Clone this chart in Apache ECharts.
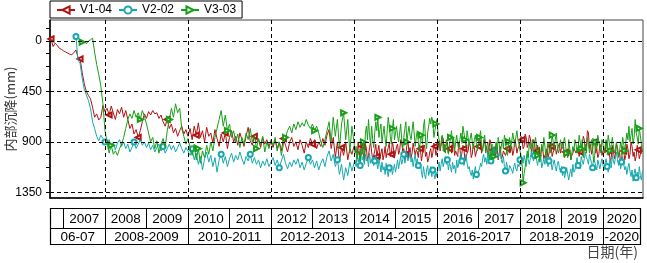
<!DOCTYPE html>
<html><head><meta charset="utf-8">
<script src="https://cdn.jsdelivr.net/npm/echarts@6/dist/echarts.min.js"></script>
<style>html,body{margin:0;padding:0;background:#fff}#c{width:647px;height:263px}</style>
</head><body><div id="c"></div>
<script>
const seriesNames = ['V1-04', 'V2-02', 'V3-03'];
const seriesColors = ['#B01212', '#16A8AE', '#17A017'];
const stepEarly = 0.05;   // sparse readings up to 2014.00
const stepLate = 0.025;   // dense readings from 2014.025
const lateStart = 2014.025;

// V1-04 sparse readings, from 2006.70 to 2014.00
const v1Start = 2006.70;
const v1Early = [
  -18, 50, 20, 40, 65, 75, 88, 98, 108, 118, 122, 105, 80, 150, 160, 280, 380, 450, 485, 515, 590, 680, 650, 705, 680, 575, 630,
  600, 660, 580, 640, 700, 610, 650, 590, 680, 620, 700, 780, 740, 830, 790, 860, 800, 720, 650, 690,
  630, 660, 620, 650, 640, 690, 660, 720, 760, 700, 780, 740, 820, 780, 850, 800, 760, 830, 790, 850,
  780, 880, 760, 840, 730, 860, 800, 900, 770, 850, 820, 910, 790, 870, 940, 830, 900, 820, 960, 860,
  800, 900, 850, 930, 820, 880, 940, 850, 770, 890, 930, 850, 910, 880, 950, 860, 920, 880, 940, 900,
  950, 880, 960, 900, 980, 870, 930, 990, 900, 860, 940, 900, 970, 880, 930, 1000, 900, 950, 870, 920,
  880, 960, 900, 940, 870, 930, 840, 790, 960, 860, 1040, 900, 1080, 950, 1020, 900, 1060, 960, 1010, 940
];
// V1-04 dense readings, from 2014.025 to 2020.95
const v1Late = [
  960,1000,1050,900,980,1060,890,940,1010,1080,920,960,1070,1020,950,900,990,1050,1020,980,920,1030,980,930,1050,1000,960,1060,1010,940,1040,990,950,910,1030,1010,900,950,1040,1000,
  940,920,1010,980,880,900,990,960,1060,1010,930,890,1000,950,1040,1000,910,920,1020,970,990,1040,930,960,1070,1010,950,930,1030,990,1080,1050,990,960,1040,1000,910,940,1020,980,
  950,890,980,930,850,870,990,950,920,900,1000,960,940,1000,880,920,1020,980,970,1030,900,950,1050,1000,930,960,1070,1040,1000,980,900,930,1040,1010,920,950,1030,990,980,940,
  860,900,1000,960,920,880,980,940,1030,990,880,920,1010,970,960,1020,1000,950,1060,1000,940,1050,1030,980,980,1020,1010,960,950,1000,980,940,1020,980,880,920,1000,960,940,900,
  850,880,960,940,830,860,950,920,840,870,990,950,880,900,1010,980,930,990,1060,1030,940,970,1050,1020,1000,960,1040,1000,900,940,1030,990,970,930,1010,970,940,910,1000,960,
  900,940,1040,990,980,1030,1010,970,1060,1020,1000,960,950,1000,990,950,1030,990,960,930,850,880,980,940,800,820,960,920,1010,970,880,900,1000,960,1040,1010,920,950,1020,980,
  960,1000,900,940,1020,980,1080,1040,930,970,1050,1010,920,950,1030,990,1090,1050,940,980,1060,1020,920,960,1050,1010,900,940,1030,990,1070,1030,930,970,1050,1010,960,990
];

// V2-02 sparse readings, from 2007.30 to 2014.00
const v2Start = 2007.30;
const v2Early = [
  -40, 170, 200, 330, 430, 480, 530, 600, 720, 780, 850, 890, 840, 870, 900,
  920, 880, 950, 900, 970, 910, 880, 940, 900, 960, 920, 990, 950, 900, 960, 920, 880, 930, 900, 950,
  910, 970, 930, 990, 950, 920, 980, 940, 1000, 960, 920, 970, 930, 990, 950, 910, 960, 1000, 950, 980,
  1020, 960, 1060, 1000, 1100, 1030, 1150, 1050, 990, 1080, 1020, 1120, 1040, 1170, 1060, 1010, 1090, 1030, 1120, 1050,
  1000, 1080, 1020, 1060, 990, 1050, 1100, 1030, 1070, 1010, 1090, 1040, 1100, 1060, 1130, 1070, 1110, 1050, 1120, 1080,
  1040, 1110, 1060, 1130, 1070, 1010, 1090, 1140, 1080, 1120, 1060, 1100, 1050, 1130, 1080, 1150, 1090, 1040, 1100, 1060,
  1130, 1070, 1150, 1090, 1050, 1120, 1030, 980, 1070, 1010, 1120, 1060, 1190, 1100, 1240, 1130, 1200, 1080, 1160, 1090
];
// V2-02 dense readings, from 2014.025 to 2020.95
const v2Late = [
  1060,1120,1000,1080,1040,1110,990,1060,1030,1100,1010,1070,1050,1120,1000,1090,1060,1030,1110,1070,1020,1090,1140,1060,1100,1170,1080,1150,1120,1190,1090,1160,1210,1130,1170,1110,1190,1140,1100,1170,
  1120,1060,1140,1080,1030,1100,1060,1010,1090,1040,1000,1070,1030,990,1080,1040,1120,1060,1010,1090,1050,1110,1140,1080,1170,1220,1120,1190,1230,1150,1110,1200,1160,1120,1210,1150,1180,1230,1170,1210,
  1130,1080,1160,1100,1050,1120,1080,1030,1100,1060,1150,1090,1120,1170,1080,1140,1110,1180,1060,1130,1090,1040,1000,1070,1040,1110,1060,1010,1090,1140,1120,1170,1200,1150,1230,1170,1120,1190,1220,1160,
  1140,1090,1120,1050,1010,1080,1040,1100,990,1050,1020,1070,970,1030,940,1000,960,1020,1050,1000,980,1060,1090,1030,1120,1160,1080,1130,1170,1110,1100,1150,1180,1120,1090,1140,1160,1100,1120,1060,
  1110,1060,1090,1020,1070,1120,1010,1060,1100,1040,980,1030,1070,1020,1000,1060,1110,1050,1080,1030,1130,1090,1050,1100,1010,1060,1120,1070,1030,1090,1150,1100,1060,1120,1160,1100,1070,1130,1170,1120,
  1200,1150,1220,1170,1130,1190,1240,1180,1140,1210,1100,1170,1150,1090,1040,1110,1080,1140,1030,1070,1100,1050,990,1040,1060,1100,1010,1050,1090,1130,1040,1080,1110,1150,1060,1100,1140,1090,1050,1110,
  1150,1090,1050,1120,1170,1110,1060,1130,1020,1070,1100,1040,990,1060,1110,1050,1140,1080,1030,1100,1150,1120,1190,1130,1090,1160,1210,1150,1250,1180,1140,1220,1170,1230,1120,1200,1240,1160
];

// V3-03 sparse readings, from 2007.45 to 2014.00
const v3Start = 2007.45;
const v3Early = [
  10, 5, 25, 0, -10, -25, 100, 210, 300, 400, 560, 800,
  900, 1000, 930, 1010, 980, 1020, 960, 920, 860, 780, 700, 650, 690, 620, 680, 640, 700, 620, 670, 740,
  820, 900, 860, 960, 890, 1000, 920, 870, 950, 800, 700, 600, 680, 560, 640, 600, 780, 850, 920, 870,
  950, 1020, 920, 1060, 960, 1090, 980, 1040, 930, 1010, 900, 980, 860, 780, 700, 620, 760, 660, 800, 740,
  860, 800, 900, 830, 950, 860, 920, 820, 880, 780, 900, 840, 960, 870, 930, 850, 990, 900, 960, 880,
  930, 860, 980, 900, 1020, 920, 860, 800, 760, 820, 740, 790, 720, 770, 730, 760, 700, 750, 780, 740,
  800, 760, 820, 900, 950, 880, 800, 720, 900, 680, 850, 700, 960, 740, 640, 880, 700, 1000, 760, 900
];
// V3-03 dense readings, from 2014.025 to 2020.95
const v3Late = [
  1000,940,1050,980,1020,1070,960,1010,900,1040,820,760,880,700,840,920,760,880,950,820,720,800,680,860,790,740,900,830,760,870,940,800,680,760,850,920,780,700,880,820,
  760,840,900,820,740,880,960,860,780,720,900,820,760,840,880,800,720,820,940,860,800,900,990,880,840,920,760,700,900,960,820,760,690,740,680,720,860,800,740,700,
  820,880,960,900,840,980,920,1000,880,960,1010,940,860,800,920,860,980,900,840,920,960,880,820,900,760,820,880,940,800,860,930,870,820,900,960,880,840,920,980,900,
  860,800,940,980,880,840,1000,940,900,980,1060,960,920,1000,1030,960,900,980,860,920,1000,940,880,960,840,900,980,1020,900,860,960,900,820,880,940,860,800,880,920,980,
  1020,1100,1265,1180,1120,1060,980,1040,900,960,940,880,1000,920,860,940,1020,960,1080,1000,920,980,860,940,1040,980,900,960,1000,940,840,900,960,880,820,940,1000,960,880,940,
  960,900,860,940,1000,1040,880,960,1060,1000,940,980,880,920,1000,960,840,900,960,880,1040,980,920,1000,860,920,1000,940,880,960,1080,1020,900,960,840,900,940,1000,880,920,
  1000,940,880,960,840,900,980,920,860,940,1000,960,900,980,1040,980,900,960,860,920,980,900,820,880,760,900,840,780,920,860,700,820,860,920,780,840,920,980
];

const yTickLabels = [0, 450, 900, 1350];
const yMinorTicks = [-112.5, 0, 112.5, 225, 337.5, 450, 562.5, 675, 787.5, 900, 1012.5, 1125, 1237.5, 1350];
const gridYears = [2008, 2010, 2012, 2014, 2016, 2018, 2020];
const yearLabels = ['2007','2008','2009','2010','2011','2012','2013','2014','2015','2016','2017','2018','2019','2020'];
const yearStarts = [2007,2008,2009,2010,2011,2012,2013,2014,2015,2016,2017,2018,2019,2020];
const groupLabels = ['06-07','2008-2009','2010-2011','2012-2013','2014-2015','2016-2017','2018-2019','-2020'];
const groupStarts = [2008, 2010, 2012, 2014, 2016, 2018, 2020];
const xMin = 2006.675, xMax = 2020.964, tableEnd = 2020.89;
const yMin = -187, yMax = 1400;

function toPairs(start, early, late) {
  const out = early.map((v, i) => [Math.round((start + i * stepEarly) * 1000) / 1000, v]);
  late.forEach((v, i) => out.push([Math.round((lateStart + i * stepLate) * 1000) / 1000, v]));
  return out;
}

const chart = echarts.init(document.getElementById('c'), null, {renderer: 'canvas'});
const fontLatin = "'Liberation Sans', Arial, sans-serif";
const fontCJK = "'Noto Sans CJK SC', sans-serif";

const dataSets = [toPairs(v1Start, v1Early, v1Late), toPairs(v2Start, v2Early, v2Late), toPairs(v3Start, v3Early, v3Late)];
const symbols = ['emptyTriangle', 'emptyCircle', 'emptyTriangle'];
const rotates = [90, 0, -90];

const series = [{
  type: 'line', name: '_grid', data: [[xMin, yMin]], symbol: 'none', z: 1,
  lineStyle: {opacity: 0}, silent: true, legendHoverLink: false,
  markLine: {
    silent: true, symbol: ['none', 'none'], label: {show: false}, animation: false,
    lineStyle: {type: [4, 3], color: '#000', width: 1},
    emphasis: {disabled: true},
    data: gridYears.map(v => ({xAxis: v})).concat(yTickLabels.map(v => ({yAxis: v})))
  }
}];
seriesNames.forEach((n, k) => {
  series.push({
    type: 'line', name: n, data: dataSets[k], z: 2 + k,
    symbol: symbols[k], symbolRotate: rotates[k],
    symbolSize: (val, p) => (p.dataIndex % 14 === 0 ? 5 : 0),
    showSymbol: true,
    lineStyle: {color: seriesColors[k], width: 1},
    itemStyle: {color: seriesColors[k], borderWidth: 1},
    emphasis: {disabled: true}
  });
});

chart.setOption({
  animation: false,
  color: seriesColors,
  grid: {left: 50, right: 4, top: 20, bottom: 65, show: true, borderColor: '#444', borderWidth: 1,
         containLabel: false, outerBoundsMode: 'none'},
  legend: {
    data: seriesNames, left: 50, top: 1, orient: 'horizontal',
    itemWidth: 18, itemHeight: 9, itemGap: 6, padding: [3, 6, 2, 6],
    borderColor: '#000', borderWidth: 1,
    textStyle: {fontSize: 12, fontFamily: fontLatin, color: '#000'}
  },
  xAxis: {
    type: 'value', min: xMin, max: xMax,
    axisLine: {show: true, onZero: false, lineStyle: {color: '#000', width: 1.5}},
    axisTick: {show: false}, axisLabel: {show: false}, splitLine: {show: false}
  },
  yAxis: {
    type: 'value', inverse: true, min: yMin, max: yMax,
    name: '内部沉降(mm)', nameLocation: 'middle', nameGap: 33, nameMoveOverlap: false,
    nameTextStyle: {fontSize: 13, fontFamily: fontCJK, color: '#333'},
    axisLine: {show: true, onZero: false, lineStyle: {color: '#000', width: 1.5}},
    axisTick: {show: true, inside: false, length: 4, customValues: yMinorTicks, lineStyle: {color: '#000'}},
    axisLabel: {customValues: yTickLabels, fontSize: 12, fontFamily: fontLatin, color: '#000', margin: 8,
                formatter: v => String(v)},
    splitLine: {show: false}
  },
  series: series
});

// Date table below the axis
function px(v) { return chart.convertToPixel({xAxisIndex: 0}, v); }
const top1 = 208, mid = 228, bot = 244;
const xL = Math.round(px(xMin)) + 0.5, xR = Math.round(px(tableEnd)) + 0.5;
const g = [];
const ls = {stroke: '#000', lineWidth: 1};
g.push({type: 'rect', shape: {x: xL, y: top1 + 0.5, width: xR - xL, height: bot - top1}, style: {fill: 'none', stroke: '#000', lineWidth: 1.2}, silent: true});
g.push({type: 'line', shape: {x1: xL, y1: mid + 0.5, x2: xR, y2: mid + 0.5}, style: ls, silent: true});
yearStarts.forEach((y, i) => {
  const x = Math.round(px(y)) + 0.5;
  g.push({type: 'line', shape: {x1: x, y1: top1, x2: x, y2: mid}, style: ls, silent: true});
  const x2 = i + 1 < yearStarts.length ? px(yearStarts[i + 1]) : xR;
  g.push({type: 'text', x: (px(y) + x2) / 2, y: (top1 + mid) / 2 + 1,
    style: {text: yearLabels[i], font: '13.5px ' + fontLatin, fill: '#000', align: 'center', verticalAlign: 'middle'}, silent: true});
});
const gEdges = [xMin].concat(groupStarts, [tableEnd]);
groupLabels.forEach((lab, i) => {
  const a = i === 0 ? xL : px(gEdges[i]);
  const b = i === groupLabels.length - 1 ? xR : px(gEdges[i + 1]);
  if (i > 0) {
    const x = Math.round(px(gEdges[i])) + 0.5;
    g.push({type: 'line', shape: {x1: x, y1: mid, x2: x, y2: bot}, style: ls, silent: true});
  }
  g.push({type: 'text', x: (a + b) / 2, y: (mid + bot) / 2 + 1,
    style: {text: lab, font: '13.5px ' + fontLatin, fill: '#000', align: 'center', verticalAlign: 'middle'}, silent: true});
});
g.push({type: 'text', right: 9, top: 245, style: {text: '日期(年)', font: '14px ' + fontCJK, fill: '#444'}, silent: true});
chart.setOption({graphic: g});
</script>
</body></html>
